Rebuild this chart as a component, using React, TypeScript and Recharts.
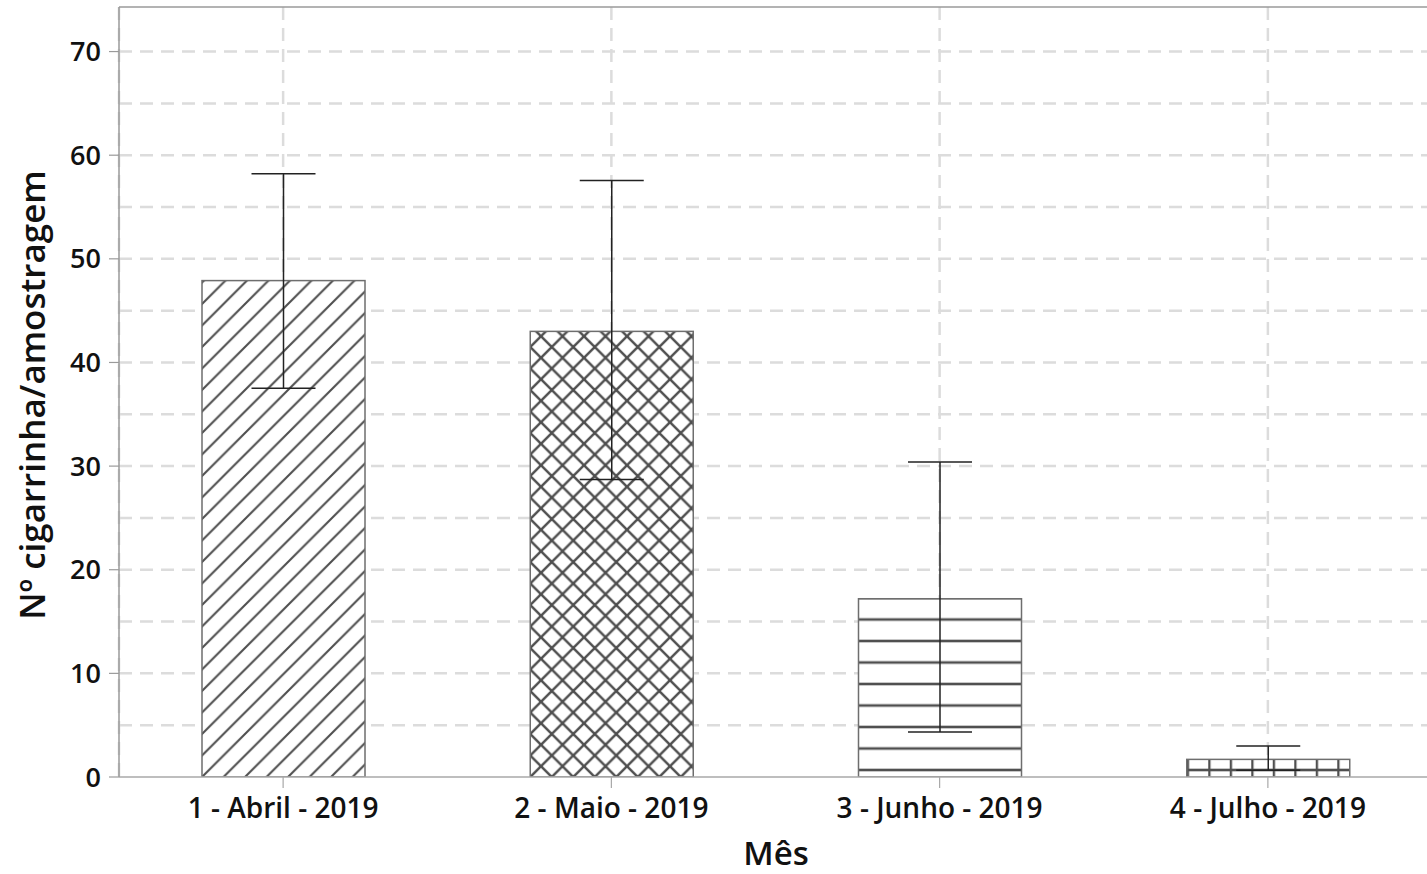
import React from 'react';
import { BarChart, Bar, XAxis, YAxis, CartesianGrid, ErrorBar, ReferenceLine } from 'recharts';

const months = ['1 - Abril - 2019', '2 - Maio - 2019', '3 - Junho - 2019', '4 - Julho - 2019'];
const means = [47.9, 43.0, 17.2, 1.7];
const lowerBounds = [37.5, 28.7, 4.35, 0.65];
const upperBounds = [58.2, 57.55, 30.4, 3.0];
const yTicks = [0, 10, 20, 30, 40, 50, 60, 70];
const gridValues = [5, 10, 15, 20, 25, 30, 35, 40, 45, 50, 55, 60, 65, 70];
const patternKinds = ['diag', 'cross', 'hlines', 'grid'];
const Y_MAX = 74.3;

const data = months.map((m, i) => ({
  month: m,
  mean: means[i],
  err: [means[i] - lowerBounds[i], upperBounds[i] - means[i]],
}));

const FONT = '"Open Sans", "Noto Sans", sans-serif';
const S = 21.5;
const LINE = '#4f4f4f';

const PatternBar = (props: any) => {
  const { x, y, width, height, index } = props;
  if (width == null || height == null) return null;
  const kind = patternKinds[index];
  const id = `pat-${index}`;
  const base = y + height;
  let pattern: React.ReactNode = null;
  if (kind === 'diag') {
    pattern = (
      <pattern id={id} patternUnits="userSpaceOnUse" width={S} height={S} x={x} y={base}>
        <path d={`M0,${S} L${S},0 M-2,2 L2,-2 M${S - 2},${S + 2} L${S + 2},${S - 2}`} stroke={LINE} strokeWidth={2.1} />
      </pattern>
    );
  } else if (kind === 'cross') {
    pattern = (
      <pattern id={id} patternUnits="userSpaceOnUse" width={S} height={S} x={x} y={base}>
        <path d={`M0,${S} L${S},0 M-2,2 L2,-2 M${S - 2},${S + 2} L${S + 2},${S - 2}`} stroke={LINE} strokeWidth={2.5} />
        <path d={`M0,0 L${S},${S} M-2,${S - 2} L2,${S + 2} M${S - 2},-2 L${S + 2},2`} stroke={LINE} strokeWidth={2.5} />
      </pattern>
    );
  } else if (kind === 'hlines') {
    pattern = (
      <pattern id={id} patternUnits="userSpaceOnUse" width={S} height={S} x={x} y={base - 7 - S / 2}>
        <line x1={0} x2={S} y1={S / 2} y2={S / 2} stroke={LINE} strokeWidth={2.6} />
      </pattern>
    );
  } else {
    pattern = (
      <pattern id={id} patternUnits="userSpaceOnUse" width={S} height={S} x={x} y={base - 7 - S / 2}>
        <line x1={0} x2={S} y1={S / 2} y2={S / 2} stroke={LINE} strokeWidth={2.6} />
        <line x1={1} x2={1} y1={0} y2={S} stroke={LINE} strokeWidth={2.6} />
      </pattern>
    );
  }
  return (
    <g>
      <defs>{pattern}</defs>
      <rect x={x} y={y} width={width} height={height} fill="#fff" />
      <rect x={x} y={y} width={width} height={height} fill={`url(#${id})`} stroke="#6e6e6e" strokeWidth={1.5} />
    </g>
  );
};

function YTitle(props: any) {
  const { viewBox } = props;
  const cy = viewBox.y + viewBox.height / 2 + 3;
  return (
    <text x={31} y={cy} transform={`rotate(-90, 31, ${cy})`} textAnchor="middle" dominantBaseline="central"
      fontFamily={FONT} fontWeight={600} fontSize={35} fill="#111">
      Nº cigarrinha/amostragem
    </text>
  );
}

function XTitle(props: any) {
  const { viewBox } = props;
  return (
    <text x={776} y={viewBox.y + 75} textAnchor="middle" dominantBaseline="central"
      fontFamily={FONT} fontWeight={600} fontSize={33} fill="#111">
      Mês
    </text>
  );
}

export default function App() {
  return (
    <div style={{ position: 'absolute', left: 0, top: 0, width: 1427, height: 874, overflow: 'hidden', background: '#fff' }}>
      <BarChart width={1432} height={874} data={data} margin={{ top: 7, right: 0, bottom: 0, left: 0 }} barSize={163}>
        <CartesianGrid horizontalValues={gridValues} stroke="#dcdcdc" strokeWidth={2.5} strokeDasharray="13 8" />
        <XAxis dataKey="month" height={97} tickSize={11} tickMargin={10}
          axisLine={{ stroke: '#a8a8a8', strokeWidth: 1.5 }} tickLine={{ stroke: '#a8a8a8', strokeWidth: 1.2 }}
          tick={{ fontFamily: FONT, fontWeight: 600, fontSize: 28, fill: '#111' }}
          label={<XTitle />} />
        <YAxis domain={[0, Y_MAX]} ticks={yTicks} width={119} tickSize={10} tickMargin={8} allowDataOverflow
          axisLine={{ stroke: '#9a9a9a', strokeWidth: 1.5 }} tickLine={{ stroke: '#9a9a9a', strokeWidth: 1.2 }}
          tick={{ fontFamily: FONT, fontWeight: 600, fontSize: 27, fill: '#111' }}
          label={<YTitle />} />
        <ReferenceLine y={Y_MAX} stroke="#9a9a9a" strokeWidth={1.5} ifOverflow="visible" />
        <Bar dataKey="mean" isAnimationActive={false} shape={<PatternBar />}>
          <ErrorBar dataKey="err" width={32} stroke="#222" strokeWidth={1.5} direction="y" />
        </Bar>
      </BarChart>
    </div>
  );
}
